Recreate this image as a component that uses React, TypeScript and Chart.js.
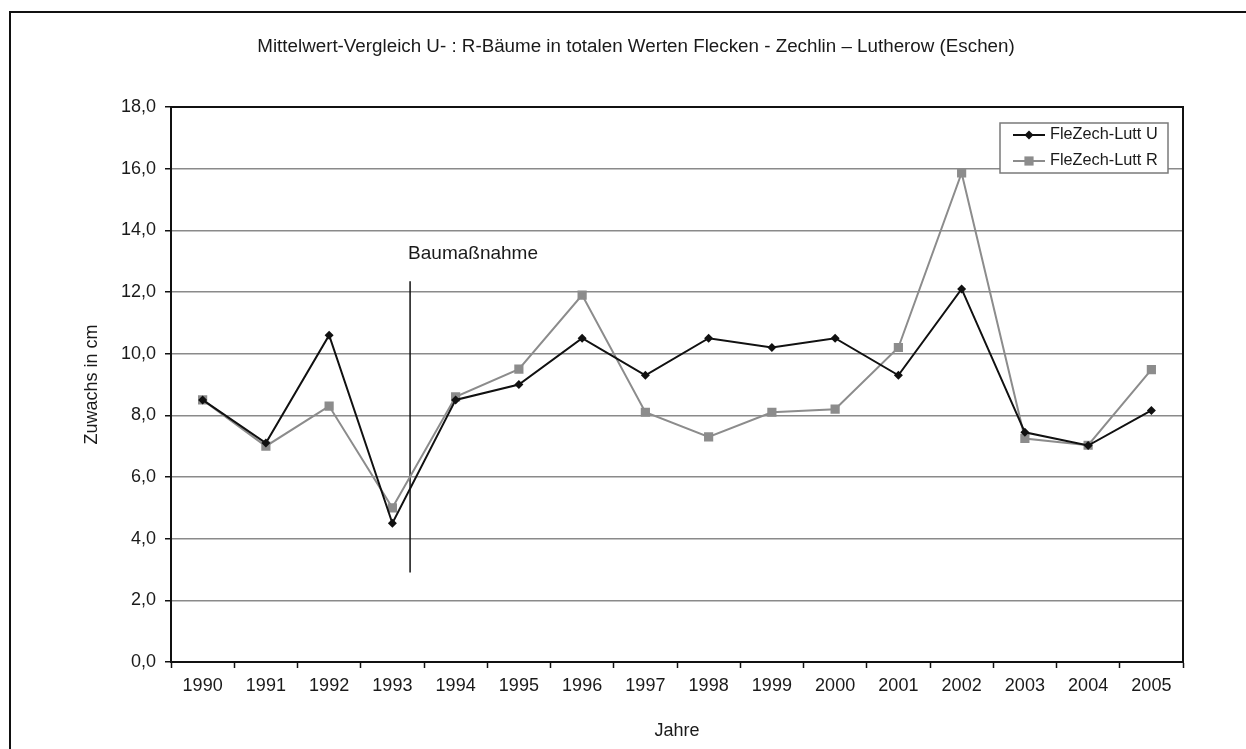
import React, { useEffect, useRef } from "react";
import { Chart, registerables } from "chart.js";

Chart.register(...registerables);

const TITLE = "Mittelwert-Vergleich U- : R-Bäume in totalen Werten Flecken - Zechlin – Lutherow (Eschen)";
const X_TITLE = "Jahre";
const Y_TITLE = "Zuwachs in cm";

const years = ["1990", "1991", "1992", "1993", "1994", "1995", "1996", "1997", "1998", "1999", "2000", "2001", "2002", "2003", "2004", "2005"];
const seriesULabel = "FleZech-Lutt U";
const seriesU = [8.5, 7.1, 10.6, 4.5, 8.5, 9.0, 10.5, 9.3, 10.5, 10.2, 10.5, 9.3, 12.1, 7.45, 7.02, 8.16];
const seriesRLabel = "FleZech-Lutt R";
const seriesR = [8.5, 7.0, 8.3, 5.0, 8.6, 9.5, 11.9, 8.1, 7.3, 8.1, 8.2, 10.2, 15.86, 7.25, 7.03, 9.48];

const yMin = 0;
const yMax = 18;
const yStep = 2;

// "Baumaßnahme" marker: category position (fractional index) and vertical extent in data units
const markerLabel = "Baumaßnahme";
const markerIndex = 3.28;
const markerFrom = 2.9;
const markerTo = 12.35;

const FONT = '"Liberation Sans", Arial, Helvetica, sans-serif';
const TEXT = "#1a1a1a";

const framePlugin = {
  id: "frame",
  beforeDatasetsDraw(chart: any) {
    const { ctx, chartArea } = chart;
    ctx.save();
    ctx.strokeStyle = "#111";
    ctx.lineWidth = 2;
    ctx.strokeRect(chartArea.left, chartArea.top, chartArea.right - chartArea.left, chartArea.bottom - chartArea.top);
    // title
    ctx.fillStyle = TEXT;
    ctx.font = `18.8px ${FONT}`;
    ctx.textAlign = "center";
    ctx.textBaseline = "middle";
    ctx.fillText(TITLE, 636, 47);
    // marker line
    const xs = chart.scales.x;
    const ys = chart.scales.y;
    const px = xs.getPixelForValue(markerIndex);
    const y1 = ys.getPixelForValue(markerTo);
    const y2 = ys.getPixelForValue(markerFrom);
    ctx.beginPath();
    ctx.lineWidth = 1.5;
    ctx.strokeStyle = "#111";
    ctx.moveTo(px, y1);
    ctx.lineTo(px, y2);
    ctx.stroke();
    ctx.fillStyle = TEXT;
    ctx.font = `19px ${FONT}`;
    ctx.textAlign = "left";
    ctx.textBaseline = "middle";
    ctx.fillText(markerLabel, px - 2, y1 - 27);
    ctx.restore();
  },
};

const legendPlugin = {
  id: "boxLegend",
  afterDatasetsDraw(chart: any) {
    const { ctx, chartArea } = chart;
    const w = 168;
    const h = 50;
    const right = chartArea.right - 15;
    const left = right - w;
    const top = chartArea.top + 16;
    ctx.save();
    ctx.fillStyle = "#fff";
    ctx.fillRect(left, top, w, h);
    ctx.strokeStyle = "#7a7a7a";
    ctx.lineWidth = 1.5;
    ctx.strokeRect(left, top, w, h);
    chart.data.datasets.forEach((ds: any, i: number) => {
      const cy = top + 12 + i * 26;
      ctx.beginPath();
      ctx.strokeStyle = ds.borderColor;
      ctx.lineWidth = ds.borderWidth;
      ctx.moveTo(left + 13, cy);
      ctx.lineTo(left + 45, cy);
      ctx.stroke();
      ctx.fillStyle = ds.pointBackgroundColor;
      const cx = left + 29;
      if (ds.pointStyle === "rectRot") {
        const r = ds.pointRadius;
        ctx.beginPath();
        ctx.moveTo(cx, cy - r);
        ctx.lineTo(cx + r, cy);
        ctx.lineTo(cx, cy + r);
        ctx.lineTo(cx - r, cy);
        ctx.closePath();
        ctx.fill();
      } else {
        const s = ds.pointRadius * Math.SQRT1_2;
        ctx.fillRect(cx - s, cy - s, 2 * s, 2 * s);
      }
      ctx.fillStyle = TEXT;
      ctx.font = `16.3px ${FONT}`;
      ctx.textAlign = "left";
      ctx.textBaseline = "middle";
      ctx.fillText(ds.label, left + 50, cy);
    });
    ctx.restore();
  },
};

export default function App() {
  const ref = useRef<HTMLCanvasElement | null>(null);

  useEffect(() => {
    if (!ref.current) return;
    const chart = new Chart(ref.current, {
      type: "line",
      data: {
        labels: years,
        datasets: [
          {
            label: seriesULabel,
            data: seriesU,
            borderColor: "#111111",
            backgroundColor: "#111111",
            pointBackgroundColor: "#111111",
            pointBorderColor: "#111111",
            borderWidth: 2,
            pointStyle: "rectRot",
            pointRadius: 4.5,
            pointBorderWidth: 0,
            tension: 0,
          },
          {
            label: seriesRLabel,
            data: seriesR,
            borderColor: "#8c8c8c",
            backgroundColor: "#8c8c8c",
            pointBackgroundColor: "#8c8c8c",
            pointBorderColor: "#8c8c8c",
            borderWidth: 2,
            pointStyle: "rect",
            pointRadius: 6.5,
            pointBorderWidth: 0,
            tension: 0,
          },
        ],
      },
      options: {
        animation: false,
        responsive: false,
        maintainAspectRatio: false,
        devicePixelRatio: 1,
        layout: { padding: { top: 107, left: 70, right: 63, bottom: 0 } },
        plugins: {
          legend: { display: false },
          tooltip: { enabled: false },
          title: { display: false },
        },
        scales: {
          x: {
            type: "category",
            offset: true,
            grid: {
              offset: true,
              drawOnChartArea: false,
              drawTicks: true,
              tickLength: 6,
              tickColor: "#111",
              tickWidth: 1.5,
            },
            border: { display: true, color: "#111", width: 2 },
            ticks: {
              color: TEXT,
              font: { family: FONT, size: 18, lineHeight: 1.2 },
              padding: 7,
              maxRotation: 0,
              autoSkip: false,
            },
            title: {
              display: true,
              text: X_TITLE,
              color: TEXT,
              font: { family: FONT, size: 18, lineHeight: 1.2 },
              padding: { top: 0, bottom: 7.2 },
            },
            afterFit(scale: any) {
              scale.height = 87;
            },
          },
          y: {
            type: "linear",
            min: yMin,
            max: yMax,
            grid: {
              color: "#8a8a8a",
              lineWidth: 1.5,
              tickLength: 6,
              tickColor: "#111",
              tickWidth: 1.5,
            },
            border: { display: true, color: "#111", width: 2 },
            ticks: {
              stepSize: yStep,
              color: TEXT,
              font: { family: FONT, size: 18, lineHeight: 1.2 },
              padding: 9,
              callback: (v: any) => Number(v).toFixed(1).replace(".", ","),
            },
            title: {
              display: true,
              text: Y_TITLE,
              color: TEXT,
              font: { family: FONT, size: 18, lineHeight: 1.2 },
              padding: { top: 11, bottom: 0 },
            },
            afterFit(scale: any) {
              scale.width = 101;
            },
          },
        },
      },
      plugins: [framePlugin, legendPlugin],
    });
    return () => chart.destroy();
  }, []);

  return (
    <div style={{ position: "absolute", left: 0, top: 0, width: 1246, height: 749, background: "#fff", overflow: "hidden" }}>
      <div
        style={{
          position: "absolute",
          left: 9,
          top: 11,
          width: 1246,
          height: 749,
          borderLeft: "2px solid #111",
          borderTop: "2px solid #111",
        }}
      />
      <canvas ref={ref} width={1246} height={749} style={{ position: "absolute", left: 0, top: 0, width: 1246, height: 749 }} />
    </div>
  );
}
